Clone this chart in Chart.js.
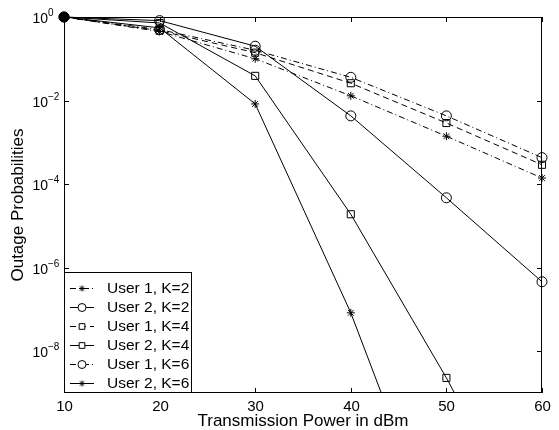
<!DOCTYPE html>
<html>
<head>
<meta charset="utf-8">
<script src="https://cdn.jsdelivr.net/npm/chart.js@4.4.0/dist/chart.umd.min.js"></script>
<style>
  html, body { margin: 0; padding: 0; background: #fff; }
  #wrap { width: 559px; height: 430px; }
</style>
</head>
<body>
<div id="wrap"><canvas id="outage" width="559" height="430"></canvas></div>
<script>
// transmission power (dBm)
var powerDbm = [10, 20, 30, 40, 50, 60];

// outage probabilities per user / K
var user1K2 = [1, 0.45, 0.10, 0.013, 0.0014, 1.4e-4];
var user2K2 = [1, 0.82, 0.20, 0.0043, 4.7e-5, 4.6e-7];
var user1K4 = [1, 0.47, 0.14, 0.026, 0.0029, 2.9e-4];
var user2K4 = [1, 0.72, 0.039, 1.9e-5, 2.3e-9, 1.2e-13];
var user1K6 = [1, 0.50, 0.16, 0.036, 0.0043, 4.3e-4];
var user2K6 = [1, 0.55, 0.0083, 8.3e-8, 8e-14, 1e-19];

var xTicks = [10, 20, 30, 40, 50, 60];
var yExps = [0, -2, -4, -6, -8];

var DASH = [6, 4];
var DASHDOT = [6, 3, 1, 3];
var FONT = '"Liberation Sans", Arial, Helvetica, sans-serif';

function series(label, values, style, dash, radius) {
	return {
		label: label,
		data: values.map(function (v, i) { return { x: powerDbm[i], y: v }; }),
		borderColor: '#000',
		borderWidth: 1,
		borderDash: dash,
		pointStyle: style,
		pointRadius: radius,
		pointBorderColor: '#000',
		pointBorderWidth: 1,
		// all curves start on top of each other at 10 dBm -> solid blob there
		pointBackgroundColor: values.map(function (v, i) { return i === 0 ? '#000' : 'rgba(0,0,0,0)'; }),
		fill: false,
		tension: 0,
		// markers may hang over the box, lines stop at the bottom edge
		clip: { left: 8, top: 8, right: 8, bottom: 0 }
	};
}

// box, inward ticks, tick labels, axis titles and the legend
var axesBox = {
	id: 'axesBox',
	afterDraw: function (chart) {
		var c = chart.ctx, a = chart.chartArea;
		var xs = chart.scales.x, ys = chart.scales.y;
		c.save();
		c.strokeStyle = '#000';
		c.lineWidth = 1;
		c.strokeRect(a.left + 0.5, a.top + 0.5, a.right - a.left - 1, a.bottom - a.top - 1);

		c.fillStyle = '#000';
		c.font = '15px ' + FONT;
		c.textAlign = 'center';
		c.textBaseline = 'middle';
		xTicks.forEach(function (v) {
			var px = Math.round(xs.getPixelForValue(v)) + 0.5;
			c.beginPath();
			c.moveTo(px, a.bottom); c.lineTo(px, a.bottom - 5);
			c.moveTo(px, a.top); c.lineTo(px, a.top + 5);
			c.stroke();
			c.fillText(String(v), px, a.bottom + 14);
		});

		yExps.forEach(function (e) {
			var py = Math.round(ys.getPixelForValue(Math.pow(10, e))) + 0.5;
			c.beginPath();
			c.moveTo(a.left, py); c.lineTo(a.left + 5, py);
			c.moveTo(a.right, py); c.lineTo(a.right - 5, py);
			c.stroke();
			c.font = '14px ' + FONT;
			c.textAlign = 'right';
			c.fillText('10', a.left - 16, py + 2);
			c.font = '10px ' + FONT;
			c.textAlign = 'left';
			c.fillText(e === 0 ? '0' : '\u2212' + (-e), a.left - 16, py - 4);
		});

		c.font = '17px ' + FONT;
		c.textAlign = 'center';
		c.fillText('Transmission Power in dBm', (a.left + a.right) / 2, 421);
		c.save();
		c.translate(18, (a.top + a.bottom) / 2);
		c.rotate(-Math.PI / 2);
		c.fillText('Outage Probabilities', 0, 0);
		c.restore();

		// legend in the lower-left corner of the plot
		var lx = a.left, ly = 272, lw = 128, lh = a.bottom - ly;
		c.fillStyle = '#fff';
		c.fillRect(lx, ly, lw, lh);
		c.strokeStyle = '#000';
		c.strokeRect(lx + 0.5, ly + 0.5, lw - 1, lh - 1);
		chart.data.datasets.forEach(function (ds, i) {
			var y = ly + 16 + i * 19;
			c.save();
			c.strokeStyle = '#000';
			c.fillStyle = '#fff';
			c.lineWidth = 1;
			c.setLineDash(ds.borderDash);
			c.beginPath();
			c.moveTo(lx + 6, y + 0.5); c.lineTo(lx + 30, y + 0.5);
			c.stroke();
			c.setLineDash([]);
			Chart.helpers.drawPoint(c, {
				pointStyle: ds.pointStyle, radius: ds.pointRadius - 1, borderWidth: 1, rotation: 0
			}, lx + 18, y + 0.5);
			c.restore();
			c.fillStyle = '#000';
			c.font = '15.5px ' + FONT;
			c.textAlign = 'left';
			c.fillText(ds.label, lx + 43, y + 1);
		});
		c.restore();
	}
};

new Chart(document.getElementById('outage'), {
	type: 'line',
	data: {
		datasets: [
			series('User 1, K=2', user1K2, 'star', DASHDOT, 4),
			series('User 2, K=2', user2K2, 'circle', [], 5),
			series('User 1, K=4', user1K4, 'rect', DASH, 5),
			series('User 2, K=4', user2K4, 'rect', [], 5),
			series('User 1, K=6', user1K6, 'circle', DASHDOT, 5),
			series('User 2, K=6', user2K6, 'star', [], 4)
		]
	},
	options: {
		responsive: false,
		animation: false,
		layout: { padding: { top: 17, right: 17, left: 0, bottom: 0 } },
		plugins: { legend: { display: false }, tooltip: { enabled: false } },
		scales: {
			x: {
				type: 'linear', min: 10, max: 60,
				grid: { display: false, drawTicks: false },
				border: { display: false },
				ticks: { display: false },
				afterFit: function (s) { s.height = 37; }
			},
			y: {
				type: 'logarithmic', min: 1e-9, max: 1,
				grid: { display: false, drawTicks: false },
				border: { display: false },
				ticks: { display: false },
				afterFit: function (s) { s.width = 64; }
			}
		}
	},
	plugins: [axesBox]
});
</script>
</body>
</html>
